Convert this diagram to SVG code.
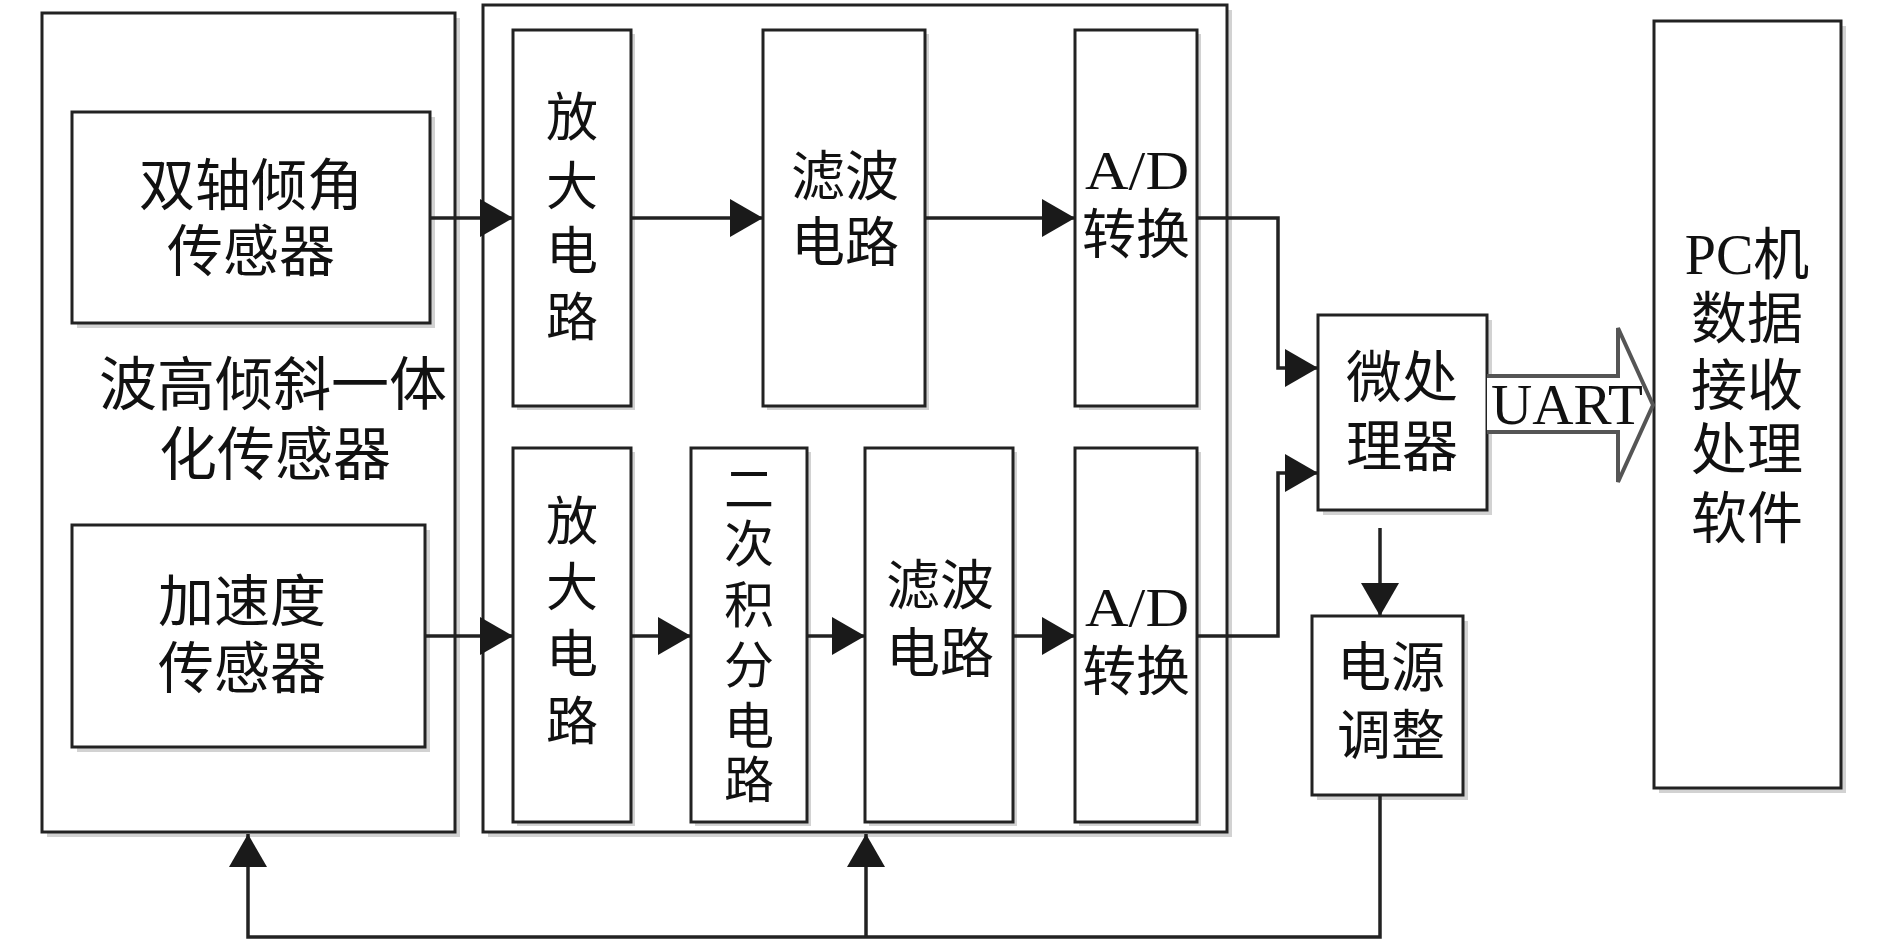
<svg xmlns="http://www.w3.org/2000/svg" width="1890" height="945" viewBox="0 0 1890 945">
<style>
.box{fill:#fff;stroke:#222;stroke-width:3}
.sh{fill:#d2d2d2}
.t{font-family:"Liberation Serif","Noto Sans CJK SC",serif;font-size:54px;fill:#111;text-anchor:middle;dominant-baseline:central}
.lat{font-family:"Liberation Serif",serif;fill:#111;text-anchor:middle;dominant-baseline:alphabetic}
.ln{fill:none;stroke:#222;stroke-width:3.5}
.hollow{fill:#fff;stroke:#555;stroke-width:4;stroke-linejoin:miter}
</style>
<defs>
<marker id="ah" markerUnits="userSpaceOnUse" markerWidth="34" markerHeight="38" refX="33" refY="19" orient="auto">
<path d="M0,0 L33,19 L0,38 z" fill="#1a1a1a"/>
</marker>
</defs>
<rect x="0" y="0" width="1890" height="945" fill="#fff"/>

<g id="sensor-unit">
<rect class="sh" x="47" y="18" width="413" height="819"/>
<rect class="box" x="42" y="13" width="413" height="819"/>
<text class="t" style="font-size:58px"><tspan x="273" y="385">波高倾斜一体</tspan><tspan x="275" y="455">化传感器</tspan></text>
</g>
<g id="tilt-sensor">
<rect class="sh" x="77" y="117" width="358" height="211"/>
<rect class="box" x="72" y="112" width="358" height="211"/>
<text class="t" style="font-size:56px"><tspan x="251" y="186">双轴倾角</tspan><tspan x="251" y="252">传感器</tspan></text>
</g>
<g id="accel-sensor">
<rect class="sh" x="77" y="530" width="353" height="222"/>
<rect class="box" x="72" y="525" width="353" height="222"/>
<text class="t" style="font-size:56px"><tspan x="242" y="602">加速度</tspan><tspan x="242" y="669">传感器</tspan></text>
</g>

<g id="conditioning-board">
<rect class="sh" x="488" y="10" width="744" height="827"/>
<rect class="box" x="483" y="5" width="744" height="827"/>
</g>
<g id="amp-1">
<rect class="sh" x="517" y="34" width="118" height="376"/>
<rect class="box" x="513" y="30" width="118" height="376"/>
<text class="t" style="font-size:52px"><tspan x="572" y="118">放</tspan><tspan x="572" y="187">大</tspan><tspan x="572" y="252">电</tspan><tspan x="572" y="318">路</tspan></text>
</g>
<g id="filter-1">
<rect class="sh" x="767" y="34" width="162" height="376"/>
<rect class="box" x="763" y="30" width="162" height="376"/>
<text class="t"><tspan x="845" y="178">滤波</tspan><tspan x="845" y="244">电路</tspan></text>
</g>
<g id="ad-1">
<rect class="sh" x="1079" y="34" width="122" height="376"/>
<rect class="box" x="1075" y="30" width="122" height="376"/>
<text class="lat" x="1137" y="189" style="font-size:54px" textLength="104" lengthAdjust="spacingAndGlyphs">A/D</text>
<text class="t" x="1136" y="236">转换</text>
</g>
<g id="amp-2">
<rect class="sh" x="517" y="452" width="118" height="374"/>
<rect class="box" x="513" y="448" width="118" height="374"/>
<text class="t" style="font-size:52px"><tspan x="572" y="522">放</tspan><tspan x="572" y="588">大</tspan><tspan x="572" y="655">电</tspan><tspan x="572" y="722">路</tspan></text>
</g>
<g id="integrator">
<rect class="sh" x="695" y="452" width="116" height="374"/>
<rect class="box" x="691" y="448" width="116" height="374"/>
<text class="t" style="font-size:50px"><tspan x="749" y="490">二</tspan><tspan x="749" y="545">次</tspan><tspan x="749" y="606">积</tspan><tspan x="749" y="666">分</tspan><tspan x="749" y="727">电</tspan><tspan x="749" y="781">路</tspan></text>
</g>
<g id="filter-2">
<rect class="sh" x="869" y="452" width="148" height="374"/>
<rect class="box" x="865" y="448" width="148" height="374"/>
<text class="t"><tspan x="940" y="587">滤波</tspan><tspan x="940" y="655">电路</tspan></text>
</g>
<g id="ad-2">
<rect class="sh" x="1079" y="452" width="122" height="374"/>
<rect class="box" x="1075" y="448" width="122" height="374"/>
<text class="lat" x="1137" y="626" style="font-size:54px" textLength="104" lengthAdjust="spacingAndGlyphs">A/D</text>
<text class="t" x="1136" y="673">转换</text>
</g>

<g id="mcu">
<rect class="sh" x="1323" y="320" width="169" height="195"/>
<rect class="box" x="1318" y="315" width="169" height="195"/>
<text class="t" style="font-size:56px"><tspan x="1402" y="378">微处</tspan><tspan x="1402" y="447">理器</tspan></text>
</g>
<g id="power">
<rect class="sh" x="1317" y="621" width="151" height="179"/>
<rect class="box" x="1312" y="616" width="151" height="179"/>
<text class="t"><tspan x="1391" y="669">电源</tspan><tspan x="1391" y="737">调整</tspan></text>
</g>
<g id="pc">
<rect class="sh" x="1659" y="26" width="187" height="767"/>
<rect class="box" x="1654" y="21" width="187" height="767"/>
<text class="t" style="font-size:56px"><tspan x="1747" y="255">PC机</tspan><tspan x="1747" y="319">数据</tspan><tspan x="1747" y="386">接收</tspan><tspan x="1747" y="450">处理</tspan><tspan x="1747" y="519">软件</tspan></text>
</g>

<g id="uart-link">
<path class="hollow" d="M1487,376 H1618 V328 L1653,405 L1618,482 V432 H1487"/>
<text class="lat" x="1567" y="424" style="font-size:57px" textLength="152" lengthAdjust="spacingAndGlyphs">UART</text>
</g>

<g id="connectors">
<path class="ln" d="M430,218 H513" marker-end="url(#ah)"/>
<path class="ln" d="M631,218 H763" marker-end="url(#ah)"/>
<path class="ln" d="M925,218 H1075" marker-end="url(#ah)"/>
<path class="ln" d="M1197,218 H1278 V368 H1318" marker-end="url(#ah)"/>
<path class="ln" d="M425,636 H513" marker-end="url(#ah)"/>
<path class="ln" d="M631,636 H691" marker-end="url(#ah)"/>
<path class="ln" d="M807,636 H865" marker-end="url(#ah)"/>
<path class="ln" d="M1013,636 H1075" marker-end="url(#ah)"/>
<path class="ln" d="M1197,636 H1278 V473 H1318" marker-end="url(#ah)"/>
<path class="ln" d="M1380,528 V616" marker-end="url(#ah)"/>
<path class="ln" d="M1380,795 V937 H248 V834" marker-end="url(#ah)"/>
<path class="ln" d="M866,937 V834" marker-end="url(#ah)"/>
</g>
</svg>
